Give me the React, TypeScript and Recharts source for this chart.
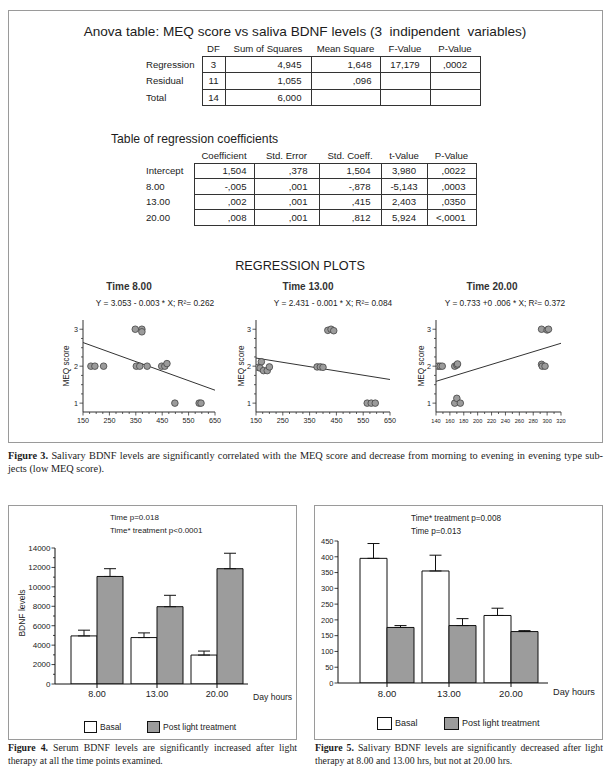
import React from 'react';
import {
  ScatterChart,
  Scatter,
  XAxis,
  YAxis,
  ReferenceLine,
  BarChart,
  Bar,
  ErrorBar,
} from 'recharts';

const SANS = '"Liberation Sans", Arial, Helvetica, sans-serif';
const SERIF = '"Liberation Serif", "Times New Roman", serif';
const INK = '#1c1c1c';

// ---------- ANOVA table ----------
const anovaHeaders = ['DF', 'Sum of Squares', 'Mean Square', 'F-Value', 'P-Value'];
const anovaRows = ['Regression', 'Residual', 'Total'];
const anovaDF = ['3', '11', '14'];
const anovaSS = ['4,945', '1,055', '6,000'];
const anovaMS = ['1,648', ',096', ''];
const anovaF = ['17,179', '', ''];
const anovaP = [',0002', '', ''];

// ---------- Regression coefficients ----------
const coefHeaders = ['Coefficient', 'Std. Error', 'Std. Coeff.', 't-Value', 'P-Value'];
const coefRows = ['Intercept', '8.00', '13.00', '20.00'];
const coefCoef = ['1,504', '-,005', ',002', ',008'];
const coefSE = [',378', ',001', ',001', ',001'];
const coefStd = ['1,504', '-,878', ',415', ',812'];
const coefT = ['3,980', '-5,143', '2,403', '5,924'];
const coefP = [',0022', ',0003', ',0350', '<,0001'];

// ---------- Regression plots ----------
const plot1X = [180, 195, 228, 352, 365, 393, 448, 460, 468, 348, 373, 373, 498, 590, 597];
const plot1Y = [2, 2, 2, 2, 2, 2, 2, 2, 2.07, 3, 3, 2.93, 1, 1, 1];
const line1X = [150, 650];
const line1Y = [2.64, 1.35];

const plot2X = [158, 170, 165, 178, 192, 200, 378, 390, 400, 418, 430, 440, 565, 580, 595];
const plot2Y = [1.97, 2.12, 1.95, 1.88, 1.88, 1.98, 1.98, 1.98, 1.97, 2.97, 3.0, 2.96, 1, 1, 1];
const line2X = [150, 650];
const line2Y = [2.22, 1.64];

const plot3X = [143, 146, 149, 167, 170, 171, 167, 170, 175, 292, 300, 302, 292, 293, 297];
const plot3Y = [2, 2, 2, 2, 2.03, 2.06, 1, 1.13, 1, 3, 2.98, 3.0, 2.05, 2, 2];
const line3X = [140, 320];
const line3Y = [1.59, 2.62];

const meqTicks = [1, 1.25, 1.5, 1.75, 2, 2.25, 2.5, 2.75, 3];
const bdnfTicksA = [150, 175, 200, 225, 250, 275, 300, 325, 350, 375, 400, 425, 450, 475, 500, 525, 550, 575, 600, 625, 650];
const bdnfTicksB = [140, 150, 160, 170, 180, 190, 200, 210, 220, 230, 240, 250, 260, 270, 280, 290, 300, 310, 320];

// ---------- Bar charts ----------
const timeCats = ['8.00', '13.00', '20.00'];
const serumBasal = [4950, 4780, 2980];
const serumBasalErr = [590, 480, 410];
const serumPost = [11070, 7960, 11870];
const serumPostErr = [800, 1170, 1590];
const serumTicks = [0, 1000, 2000, 3000, 4000, 5000, 6000, 7000, 8000, 9000, 10000, 11000, 12000, 13000, 14000];

const salivaBasal = [395, 355, 214];
const salivaBasalErr = [47, 50, 23];
const salivaPost = [176, 182, 163];
const salivaPostErr = [6, 22, 3];
const salivaTicks = [0, 50, 100, 150, 200, 250, 300, 350, 400, 450];

const toPoints = (xs: number[], ys: number[]) => xs.map((x, i) => ({ x, y: ys[i] }));
const toBars = (b: number[], be: number[], p: number[], pe: number[]) =>
  timeCats.map((t, i) => ({ time: t, basal: b[i], basalErr: [0, be[i]], post: p[i], postErr: [0, pe[i]] }));

// ---------- helpers ----------
const Txt = ({ x, y, size, anchor = 'middle', weight = 400, family = SANS, rotate = false, color = INK, children }: any) => {
  const tx = anchor === 'middle' ? '-50%' : anchor === 'end' ? '-100%' : '0';
  return (
    <div
      style={{
        position: 'absolute',
        left: x,
        top: y,
        transform: rotate ? 'translate(-50%, -50%) rotate(-90deg)' : `translate(${tx}, -50%)`,
        fontSize: size,
        fontFamily: family,
        fontWeight: weight,
        whiteSpace: 'pre',
        lineHeight: 1,
        color,
      }}
    >
      {children}
    </div>
  );
};

const Box = ({ l, t, r, b }: any) => (
  <div
    style={{
      position: 'absolute',
      left: l,
      top: t,
      width: r - l,
      height: b - t,
      border: '1.3px solid #9a9a9a',
      boxSizing: 'border-box',
    }}
  />
);

const bordered = { border: '1px solid #333', padding: 0 };

const AnovaTable = () => {
  const widths = [56, 23, 86, 69, 50, 50];
  return (
    <table
      style={{
        position: 'absolute',
        left: 146,
        top: 41,
        borderCollapse: 'collapse',
        tableLayout: 'fixed',
        width: widths.reduce((a, b) => a + b, 0),
        fontFamily: SANS,
        fontSize: 9.6,
        color: '#222',
      }}
    >
      <colgroup>
        {widths.map((w, i) => (
          <col key={i} style={{ width: w }} />
        ))}
      </colgroup>
      <tbody>
        <tr style={{ height: 15 }}>
          <td style={{ padding: 0 }} />
          {anovaHeaders.map((h) => (
            <td key={h} style={{ padding: 0, textAlign: 'center', whiteSpace: 'nowrap' }}>
              {h}
            </td>
          ))}
        </tr>
        {anovaRows.map((r, i) => (
          <tr key={r} style={{ height: 16.5 }}>
            <td style={{ padding: 0, textAlign: 'left' }}>{r}</td>
            <td style={{ ...bordered, textAlign: 'center' }}>{anovaDF[i]}</td>
            <td style={{ ...bordered, textAlign: 'right', paddingRight: 9 }}>{anovaSS[i]}</td>
            <td style={{ ...bordered, textAlign: 'right', paddingRight: 8 }}>{anovaMS[i]}</td>
            <td style={{ ...bordered, textAlign: 'center' }}>{anovaF[i]}</td>
            <td style={{ ...bordered, textAlign: 'center' }}>{anovaP[i]}</td>
          </tr>
        ))}
      </tbody>
    </table>
  );
};

const CoefTable = () => {
  const widths = [48, 60, 65, 62, 46, 49];
  return (
    <table
      style={{
        position: 'absolute',
        left: 146,
        top: 149,
        borderCollapse: 'collapse',
        tableLayout: 'fixed',
        width: widths.reduce((a, b) => a + b, 0),
        fontFamily: SANS,
        fontSize: 9.6,
        color: '#222',
      }}
    >
      <colgroup>
        {widths.map((w, i) => (
          <col key={i} style={{ width: w }} />
        ))}
      </colgroup>
      <tbody>
        <tr style={{ height: 14 }}>
          <td style={{ padding: 0 }} />
          {coefHeaders.map((h) => (
            <td key={h} style={{ padding: 0, textAlign: 'center', whiteSpace: 'nowrap' }}>
              {h}
            </td>
          ))}
        </tr>
        {coefRows.map((r, i) => (
          <tr key={r} style={{ height: 15.6 }}>
            <td style={{ padding: 0, textAlign: 'left' }}>{r}</td>
            <td style={{ ...bordered, textAlign: 'right', paddingRight: 7 }}>{coefCoef[i]}</td>
            <td style={{ ...bordered, textAlign: 'right', paddingRight: 11 }}>{coefSE[i]}</td>
            <td style={{ ...bordered, textAlign: 'right', paddingRight: 10 }}>{coefStd[i]}</td>
            <td style={{ ...bordered, textAlign: 'center' }}>{coefT[i]}</td>
            <td style={{ ...bordered, textAlign: 'right', paddingRight: 10 }}>{coefP[i]}</td>
          </tr>
        ))}
      </tbody>
    </table>
  );
};

const Dot = (p: any) => (
  <circle cx={p.cx} cy={p.cy} r={3.3} fill="#9b9b9b" stroke="#444" strokeWidth={0.8} />
);

const XTick = (p: any) => {
  const { x, y, payload, start, step, font } = p;
  const v = payload.value;
  const major = Math.abs((v - start) % step) < 1e-6;
  return (
    <g>
      <line x1={x} x2={x} y1={y} y2={y + (major ? 3.5 : 2)} stroke="#333" strokeWidth={0.8} />
      {major && (
        <text x={x} y={y + 11} textAnchor="middle" fontSize={font} fontFamily={SANS} fill="#222">
          {v}
        </text>
      )}
    </g>
  );
};

const YTick = (p: any) => {
  const { x, y, payload } = p;
  const v = payload.value;
  const major = Number.isInteger(v);
  return (
    <g>
      <line x1={x} x2={x - (major ? 3.5 : 2)} y1={y} y2={y} stroke="#333" strokeWidth={0.8} />
      {major && (
        <text x={x - 5} y={y + 2.6} textAnchor="end" fontSize={7.2} fontFamily={SANS} fill="#222">
          {v}
        </text>
      )}
    </g>
  );
};

const RegPlot = ({ axisX, plotRight, xs, ys, lx, ly, xDomain, xTicks, step, font }: any) => {
  const yW = 30;
  const rM = 12;
  const width = plotRight - axisX + yW + rM;
  const data = toPoints(xs, ys);
  return (
    <div style={{ position: 'absolute', left: axisX - yW, top: 320 }}>
      <ScatterChart width={width} height={114} margin={{ top: 0, right: rM, bottom: 0, left: 0 }}>
        <XAxis
          type="number"
          dataKey="x"
          domain={xDomain}
          ticks={xTicks}
          interval={0}
          allowDataOverflow
          height={22}
          tickSize={0}
          tickMargin={0}
          tickLine={false}
          stroke="#333"
          tick={(tp: any) => <XTick {...tp} start={xDomain[0]} step={step} font={font} />}
        />
        <YAxis
          type="number"
          dataKey="y"
          domain={[0.76, 3.25]}
          ticks={meqTicks}
          interval={0}
          allowDataOverflow
          width={yW}
          tickSize={0}
          tickMargin={0}
          tickLine={false}
          stroke="#333"
          tick={(tp: any) => <YTick {...tp} />}
        />
        <ReferenceLine
          segment={[
            { x: lx[0], y: ly[0] },
            { x: lx[1], y: ly[1] },
          ]}
          stroke="#333"
          strokeWidth={1}
          ifOverflow="visible"
        />
        <Scatter data={data} isAnimationActive={false} shape={Dot} />
      </ScatterChart>
    </div>
  );
};

const BarYTick = (p: any) => {
  const { x, y, payload, majorStep, font } = p;
  const v = payload.value;
  const major = v % majorStep === 0;
  return (
    <g>
      <line x1={x} x2={x - (major ? 3.5 : 2)} y1={y} y2={y} stroke="#111" strokeWidth={0.8} />
      {major && (
        <text x={x - 4.5} y={y + 2.8} textAnchor="end" fontSize={font} fontFamily={SANS} fill="#222">
          {v}
        </text>
      )}
    </g>
  );
};

const LegendSwatch = ({ x, y, w, h, fill }: any) => (
  <div
    style={{
      position: 'absolute',
      left: x,
      top: y,
      width: w,
      height: h,
      background: fill,
      border: '1px solid #111',
      boxSizing: 'border-box',
    }}
  />
);

const BDNFBars = ({ left, top, width, height, yW, data, domain, ticks, majorStep, yFont, xFont, padL, padR }: any) => (
  <div style={{ position: 'absolute', left, top }}>
    <BarChart
      width={width}
      height={height}
      data={data}
      margin={{ top: 8, right: 0, bottom: 0, left: 0 }}
      barCategoryGap={4}
      barGap={0}
    >
      <XAxis
        dataKey="time"
        height={20}
        padding={{ left: padL, right: padR }}
        stroke="#111"
        tickSize={4}
        tickMargin={3}
        interval={0}
        tick={{ fontSize: xFont, fontFamily: SANS, fill: '#222' }}
      />
      <YAxis
        type="number"
        domain={domain}
        ticks={ticks}
        interval={0}
        allowDataOverflow
        width={yW}
        tickSize={0}
        tickMargin={0}
        tickLine={false}
        stroke="#111"
        tick={(tp: any) => <BarYTick {...tp} majorStep={majorStep} font={yFont} />}
      />
      <Bar dataKey="basal" fill="#ffffff" stroke="#111" strokeWidth={1} isAnimationActive={false}>
        <ErrorBar dataKey="basalErr" direction="y" width={6} stroke="#111" strokeWidth={1} />
      </Bar>
      <Bar dataKey="post" fill="#9c9c9c" stroke="#111" strokeWidth={1} isAnimationActive={false}>
        <ErrorBar dataKey="postErr" direction="y" width={6} stroke="#111" strokeWidth={1} />
      </Bar>
    </BarChart>
  </div>
);

const CaptionLine = ({ justify, children }: any) => (
  <div style={{ textAlign: 'justify', textAlignLast: justify ? 'justify' : 'left' } as any}>{children}</div>
);

export default function App() {
  const serumData = toBars(serumBasal, serumBasalErr, serumPost, serumPostErr);
  const salivaData = toBars(salivaBasal, salivaBasalErr, salivaPost, salivaPostErr);
  return (
    <div
      style={{
        position: 'absolute',
        left: 0,
        top: 0,
        width: 611,
        height: 782,
        background: '#fff',
        overflow: 'hidden',
        fontFamily: SANS,
        color: INK,
      }}
    >
      {/* ===== Figure 3 box ===== */}
      <Box l={8} t={10} r={603} b={443} />
      <Txt x={305} y={32} size={13.6}>
        {'Anova table: MEQ score vs saliva BDNF levels (3  indipendent  variables)'}
      </Txt>
      <AnovaTable />

      <Txt x={111} y={139} size={12.2} anchor="start">
        Table of regression coefficients
      </Txt>
      <CoefTable />

      <Txt x={300} y={266} size={12.7}>
        REGRESSION PLOTS
      </Txt>

      <Txt x={129} y={287} size={10} weight={700} color="#333">Time 8.00</Txt>
      <Txt x={308} y={287} size={10} weight={700} color="#333">Time 13.00</Txt>
      <Txt x={492} y={287} size={10} weight={700} color="#333">Time 20.00</Txt>

      <Txt x={155} y={303} size={8.3}>{'Y = 3.053 - 0.003 * X; R\u00b2= 0.262'}</Txt>
      <Txt x={333} y={303} size={8.3}>{'Y = 2.431 - 0.001 * X; R\u00b2= 0.084'}</Txt>
      <Txt x={505} y={303} size={8.3}>{'Y = 0.733 +0 .006 * X; R\u00b2= 0.372'}</Txt>

      <Txt x={67} y={366} size={8.2} rotate>MEQ score</Txt>
      <Txt x={242} y={366} size={8.2} rotate>MEQ score</Txt>
      <Txt x={422} y={366} size={8.2} rotate>MEQ score</Txt>

      <RegPlot axisX={83} plotRight={215} xs={plot1X} ys={plot1Y} lx={line1X} ly={line1Y} xDomain={[150, 650]} xTicks={bdnfTicksA} step={100} font={7.2} />
      <RegPlot axisX={256} plotRight={390} xs={plot2X} ys={plot2Y} lx={line2X} ly={line2Y} xDomain={[150, 650]} xTicks={bdnfTicksA} step={100} font={7.2} />
      <RegPlot axisX={436} plotRight={561} xs={plot3X} ys={plot3Y} lx={line3X} ly={line3Y} xDomain={[140, 320]} xTicks={bdnfTicksB} step={20} font={5.6} />

      {/* Figure 3 caption */}
      <div style={{ position: 'absolute', left: 8, top: 449, width: 595, fontFamily: SERIF, fontSize: 10.3, lineHeight: '13px', color: INK }}>
        <CaptionLine justify>
          <b>Figure 3.</b> Salivary BDNF levels are significantly correlated with the MEQ score and decrease from morning to evening in evening type sub-
        </CaptionLine>
        <CaptionLine>jects (low MEQ score).</CaptionLine>
      </div>

      {/* ===== Figure 4 ===== */}
      <Box l={8} t={505} r={297} b={740} />
      <Txt x={110} y={517.5} size={8} anchor="start">Time p=0.018</Txt>
      <Txt x={110} y={530.5} size={8} anchor="start">Time* treatment p&lt;0.0001</Txt>
      <Txt x={22} y={613} size={8.5} rotate>BDNF levels</Txt>
      <BDNFBars left={8} top={540} width={240} height={164} yW={47} data={serumData} domain={[0, 14000]} ticks={serumTicks} majorStep={2000} yFont={8} xFont={9} padL={12} padR={1} />
      <Txt x={253} y={697} size={8.6} anchor="start">Day hours</Txt>
      <LegendSwatch x={84} y={721} w={13} h={12} fill="#fff" />
      <Txt x={100} y={727} size={8.5} anchor="start">Basal</Txt>
      <LegendSwatch x={147} y={721} w={13} h={12} fill="#9c9c9c" />
      <Txt x={163} y={727} size={8.5} anchor="start">Post light treatment</Txt>

      <div style={{ position: 'absolute', left: 8, top: 741, width: 289, fontFamily: SERIF, fontSize: 9.8, lineHeight: '13px', color: INK }}>
        <CaptionLine justify>
          <b>Figure 4.</b> Serum BDNF levels are significantly increased after light
        </CaptionLine>
        <CaptionLine>therapy at all the time points examined.</CaptionLine>
      </div>

      {/* ===== Figure 5 ===== */}
      <Box l={314} t={505} r={603} b={740} />
      <Txt x={411} y={518.5} size={8.2} anchor="start">Time* treatment p=0.008</Txt>
      <Txt x={411} y={532} size={8.2} anchor="start">Time p=0.013</Txt>
      <BDNFBars left={315} top={533} width={233} height={170} yW={23} data={salivaData} domain={[0, 450]} ticks={salivaTicks} majorStep={50} yFont={7.5} xFont={9.5} padL={18} padR={6} />
      <Txt x={553} y={693} size={9.2} anchor="start">Day hours</Txt>
      <LegendSwatch x={377} y={717} w={15} h={13} fill="#fff" />
      <Txt x={395} y={723} size={9} anchor="start">Basal</Txt>
      <LegendSwatch x={444} y={717} w={15} h={13} fill="#9c9c9c" />
      <Txt x={462} y={723} size={9} anchor="start">Post light treatment</Txt>

      <div style={{ position: 'absolute', left: 315, top: 741, width: 288, fontFamily: SERIF, fontSize: 9.8, lineHeight: '13px', color: INK }}>
        <CaptionLine justify>
          <b>Figure 5.</b> Salivary BDNF levels are significantly decreased after light
        </CaptionLine>
        <CaptionLine>therapy at 8.00 and 13.00 hrs, but not at 20.00 hrs.</CaptionLine>
      </div>
    </div>
  );
}
